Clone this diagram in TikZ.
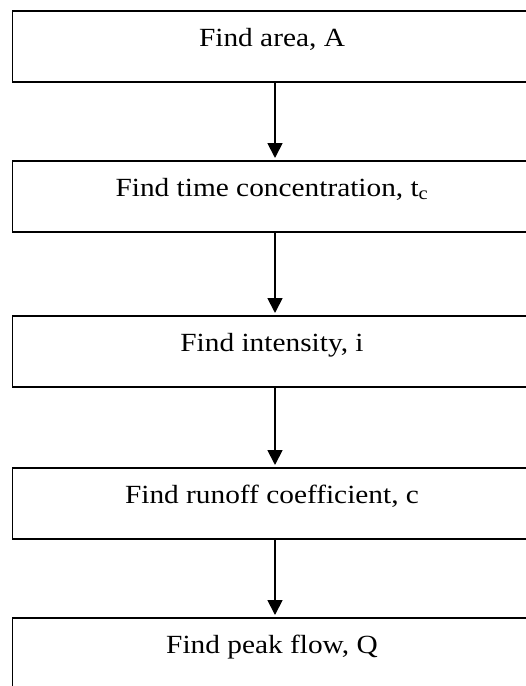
\documentclass[tikz,border=0pt]{standalone}
\usepackage{graphicx}
\usepackage{fontspec}
\setmainfont[Ligatures=NoCommon]{Liberation Serif}
\newcommand\widetxt[1]{\scalebox{1.12}[1]{#1}}
\usetikzlibrary{arrows.meta}
\begin{document}
\begin{tikzpicture}[x=1pt,y=1pt,
  stepbox/.style={draw=black, line width=1.6pt, minimum width=525pt, minimum height=71pt, inner sep=0pt, anchor=north},
  steptext/.style={anchor=base, inner sep=0pt, font=\fontsize{26.2}{30}\selectfont},
  flow/.style={line width=1.8pt, -{Triangle[width=15pt,length=15pt]}, shorten >=2pt}]
\useasboundingbox (0,0) rectangle (526,-686);
\clip (0,0) rectangle (526,-686);
\node[stepbox] (b1) at (275,-10) {};
\node[stepbox] (b2) at (275,-160) {};
\node[stepbox] (b3) at (275,-315) {};
\node[stepbox] (b4) at (275,-467) {};
\node[stepbox] (b5) at (275,-617) {};
\node[steptext] (t1) at ([xshift=-3pt,yshift=-36pt]b1.north) {\widetxt{Find area, A}};
\node[steptext] (t2) at ([xshift=-3pt,yshift=-36pt]b2.north) {\widetxt{Find time concentration, t\textsubscript{c}}};
\node[steptext] (t3) at ([xshift=-3pt,yshift=-36pt]b3.north) {\widetxt{Find intensity, i}};
\node[steptext] (t4) at ([xshift=-3pt,yshift=-36pt]b4.north) {\widetxt{Find runoff coefficient, c}};
\node[steptext] (t5) at ([xshift=-3pt,yshift=-36pt]b5.north) {\widetxt{Find peak flow, Q}};
\draw[flow] (b1.south) -- (b2.north);
\draw[flow] (b2.south) -- (b3.north);
\draw[flow] (b3.south) -- (b4.north);
\draw[flow] (b4.south) -- (b5.north);
\end{tikzpicture}
\end{document}
